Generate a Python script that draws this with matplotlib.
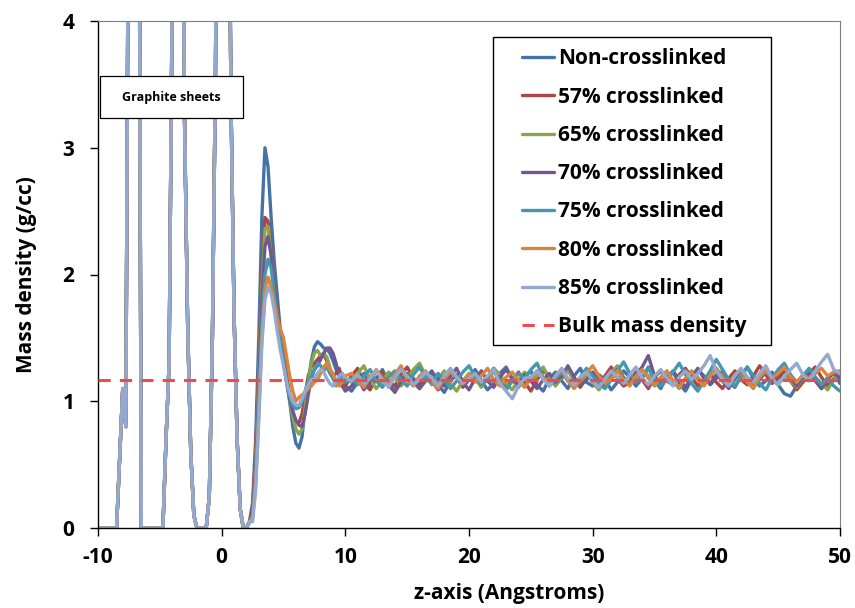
import numpy as np
import matplotlib
matplotlib.use("Agg")
import matplotlib.pyplot as plt
from matplotlib.patches import Rectangle

plt.rcParams['font.family'] = ['Open Sans', 'DejaVu Sans']
plt.rcParams['font.weight'] = 'bold'
plt.rcParams['axes.unicode_minus'] = False

# ---------------- data ----------------
# x grids (Angstroms)
x_graphite = np.arange(-10, 2.5, 0.25)        # graphite-sheet region (shared profile)
x_near = np.arange(2.5, 10.01, 0.25)          # interfacial region
x_bulk = np.arange(10.5, 50.01, 0.5)          # bulk region

graphite_profile = [
    0, 0, 0, 0, 0, 0, 0, 0.55, 1.1, 0.8,
    6.0, 11, 12, 7.5, 0, 0, 0, 0, 0, 0,
    0, 0, 0.7, 1.3, 4.2, 9, 11, 7, 3.2, 1.6,
    0.6, 0.1, 0, 0, 0, 0, 0.25, 1.5, 3.6, 8,
    11, 10, 6.5, 3.4, 1.7, 0.7, 0.15, 0, 0, 0.05,
]

series_labels = ['Non-crosslinked', '57% crosslinked', '65% crosslinked',
                 '70% crosslinked', '75% crosslinked', '80% crosslinked',
                 '85% crosslinked']

near_non = [0.2, 0.7, 1.5, 2.45, 3.0, 2.85, 2.45, 2.1, 1.82, 1.55, 1.37, 1.2, 1.0, 0.8, 0.67, 0.63,
            0.72, 0.95, 1.15, 1.32, 1.43, 1.47, 1.45, 1.42, 1.41, 1.38, 1.32, 1.25, 1.2, 1.15, 1.12]
near_57 = [0.15, 0.6, 1.3, 2.0, 2.45, 2.42, 2.2, 1.95, 1.72, 1.52, 1.36, 1.2, 1.05, 0.92, 0.84, 0.83,
           0.9, 1.05, 1.2, 1.27, 1.3, 1.33, 1.36, 1.37, 1.32, 1.25, 1.2, 1.22, 1.26, 1.18, 1.12]
near_65 = [0.1, 0.5, 1.2, 1.9, 2.36, 2.38, 2.15, 1.92, 1.7, 1.5, 1.32, 1.15, 1.0, 0.88, 0.78, 0.74,
           0.78, 0.95, 1.15, 1.3, 1.38, 1.4, 1.36, 1.38, 1.35, 1.27, 1.18, 1.12, 1.15, 1.22, 1.18]
near_70 = [0.1, 0.45, 1.1, 1.8, 2.22, 2.3, 2.15, 1.92, 1.7, 1.5, 1.32, 1.15, 1.02, 0.92, 0.85, 0.81,
           0.8, 0.9, 1.05, 1.18, 1.25, 1.28, 1.33, 1.38, 1.42, 1.42, 1.38, 1.3, 1.2, 1.12, 1.08]
near_75 = [0.1, 0.4, 1.0, 1.6, 2.0, 2.12, 2.05, 1.85, 1.65, 1.47, 1.3, 1.15, 1.04, 0.97, 0.94, 0.95,
           1.0, 1.08, 1.15, 1.2, 1.25, 1.3, 1.28, 1.24, 1.27, 1.22, 1.18, 1.14, 1.16, 1.2, 1.15]
near_80 = [0.08, 0.35, 0.9, 1.5, 1.88, 1.98, 1.9, 1.78, 1.65, 1.57, 1.5, 1.35, 1.2, 1.08, 1.0, 1.03,
           1.05, 1.07, 1.1, 1.12, 1.15, 1.17, 1.22, 1.27, 1.3, 1.25, 1.22, 1.15, 1.12, 1.15, 1.2]
near_85 = [0.05, 0.3, 0.85, 1.45, 1.8, 1.9, 1.85, 1.72, 1.55, 1.4, 1.28, 1.15, 1.06, 1.0, 0.97, 0.97,
           1.02, 1.08, 1.13, 1.17, 1.18, 1.22, 1.25, 1.23, 1.18, 1.14, 1.12, 1.16, 1.2, 1.22, 1.18]

bulk_non = [1.08, 1.15, 1.22, 1.12, 1.18, 1.25, 1.14, 1.08, 1.17, 1.22,
            1.15, 1.10, 1.19, 1.24, 1.13, 1.07, 1.16, 1.21, 1.12, 1.18,
            1.25, 1.16, 1.09, 1.14, 1.22, 1.27, 1.17, 1.11, 1.19, 1.24,
            1.13, 1.08, 1.18, 1.23, 1.16, 1.10, 1.20, 1.26, 1.15, 1.12,
            1.21, 1.17, 1.09, 1.15, 1.24, 1.19, 1.12, 1.18, 1.27, 1.16,
            1.10, 1.19, 1.23, 1.14, 1.08, 1.17, 1.25, 1.20, 1.13, 1.18,
            1.24, 1.15, 1.11, 1.20, 1.27, 1.18, 1.12, 1.16, 1.23, 1.13,
            1.06, 1.04, 1.12, 1.20, 1.25, 1.17, 1.10, 1.19, 1.22, 1.14]
bulk_57 = [1.20, 1.26, 1.14, 1.09, 1.18, 1.23, 1.16, 1.12, 1.21, 1.27,
           1.18, 1.13, 1.22, 1.16, 1.09, 1.15, 1.24, 1.19, 1.11, 1.17,
           1.22, 1.14, 1.19, 1.26, 1.18, 1.12, 1.16, 1.23, 1.15, 1.08,
           1.17, 1.24, 1.20, 1.13, 1.18, 1.25, 1.16, 1.11, 1.19, 1.22,
           1.14, 1.20, 1.27, 1.18, 1.12, 1.15, 1.23, 1.17, 1.10, 1.19,
           1.24, 1.16, 1.13, 1.21, 1.26, 1.19, 1.12, 1.17, 1.22, 1.15,
           1.10, 1.18, 1.24, 1.17, 1.13, 1.20, 1.28, 1.21, 1.14, 1.18,
           1.23, 1.16, 1.09, 1.15, 1.22, 1.27, 1.19, 1.12, 1.18, 1.21]
bulk_65 = [1.15, 1.22, 1.28, 1.17, 1.10, 1.16, 1.23, 1.19, 1.12, 1.18,
           1.25, 1.30, 1.20, 1.13, 1.17, 1.24, 1.14, 1.08, 1.16, 1.22,
           1.18, 1.11, 1.19, 1.26, 1.21, 1.14, 1.09, 1.17, 1.23, 1.16,
           1.20, 1.27, 1.18, 1.12, 1.19, 1.24, 1.17, 1.13, 1.21, 1.15,
           1.09, 1.16, 1.22, 1.28, 1.19, 1.14, 1.18, 1.25, 1.20, 1.12,
           1.17, 1.23, 1.16, 1.10, 1.18, 1.24, 1.19, 1.13, 1.20, 1.26,
           1.18, 1.12, 1.17, 1.23, 1.15, 1.10, 1.19, 1.24, 1.17, 1.13,
           1.20, 1.16, 1.11, 1.18, 1.25, 1.19, 1.14, 1.09, 1.17, 1.22]
bulk_70 = [1.12, 1.18, 1.09, 1.16, 1.24, 1.19, 1.13, 1.07, 1.15, 1.21,
           1.17, 1.10, 1.16, 1.23, 1.18, 1.12, 1.20, 1.26, 1.15, 1.09,
           1.18, 1.24, 1.16, 1.11, 1.19, 1.25, 1.18, 1.13, 1.21, 1.16,
           1.10, 1.17, 1.22, 1.15, 1.20, 1.28, 1.19, 1.12, 1.17, 1.23,
           1.16, 1.11, 1.19, 1.25, 1.18, 1.13, 1.21, 1.27, 1.36, 1.20,
           1.13, 1.18, 1.24, 1.17, 1.11, 1.19, 1.26, 1.18, 1.14, 1.21,
           1.16, 1.10, 1.18, 1.25, 1.19, 1.13, 1.17, 1.23, 1.15, 1.21,
           1.27, 1.18, 1.12, 1.19, 1.24, 1.16, 1.10, 1.17, 1.23, 1.18]
bulk_75 = [1.18, 1.13, 1.20, 1.25, 1.16, 1.11, 1.19, 1.24, 1.17, 1.12,
           1.21, 1.27, 1.18, 1.14, 1.22, 1.17, 1.10, 1.16, 1.23, 1.28,
           1.19, 1.13, 1.17, 1.24, 1.15, 1.09, 1.16, 1.22, 1.18, 1.25,
           1.30, 1.19, 1.12, 1.18, 1.23, 1.16, 1.11, 1.19, 1.26, 1.20,
           1.14, 1.10, 1.17, 1.24, 1.31, 1.22, 1.15, 1.19, 1.26, 1.18,
           1.12, 1.17, 1.23, 1.30, 1.21, 1.14, 1.08, 1.16, 1.24, 1.33,
           1.25, 1.17, 1.12, 1.19, 1.27, 1.20, 1.14, 1.09, 1.18, 1.25,
           1.30, 1.21, 1.15, 1.20, 1.26, 1.19, 1.13, 1.18, 1.12, 1.08]
bulk_80 = [1.22, 1.16, 1.11, 1.19, 1.25, 1.18, 1.13, 1.21, 1.28, 1.17,
           1.12, 1.20, 1.24, 1.16, 1.10, 1.18, 1.23, 1.19, 1.14, 1.21,
           1.15, 1.20, 1.26, 1.17, 1.12, 1.19, 1.23, 1.16, 1.11, 1.18,
           1.24, 1.19, 1.13, 1.20, 1.25, 1.16, 1.10, 1.17, 1.22, 1.28,
           1.20, 1.14, 1.18, 1.24, 1.17, 1.12, 1.20, 1.25, 1.18, 1.13,
           1.19, 1.24, 1.16, 1.11, 1.18, 1.23, 1.17, 1.12, 1.20, 1.26,
           1.19, 1.14, 1.21, 1.25, 1.16, 1.11, 1.19, 1.24, 1.18, 1.22,
           1.27, 1.19, 1.15, 1.21, 1.18, 1.22, 1.26, 1.20, 1.23, 1.24]
bulk_85 = [1.16, 1.21, 1.14, 1.18, 1.24, 1.17, 1.11, 1.19, 1.25, 1.20,
           1.13, 1.17, 1.23, 1.18, 1.12, 1.20, 1.26, 1.19, 1.14, 1.18,
           1.22, 1.15, 1.20, 1.25, 1.14, 1.08, 1.02, 1.12, 1.18, 1.19,
           1.24, 1.17, 1.12, 1.20, 1.26, 1.18, 1.13, 1.19, 1.23, 1.16,
           1.11, 1.18, 1.24, 1.19, 1.14, 1.21, 1.27, 1.18, 1.13, 1.20,
           1.25, 1.18, 1.12, 1.19, 1.24, 1.17, 1.22, 1.28, 1.36, 1.24,
           1.17, 1.12, 1.20, 1.26, 1.19, 1.15, 1.22, 1.28, 1.18, 1.13,
           1.20, 1.25, 1.30, 1.21, 1.16, 1.24, 1.31, 1.37, 1.25, 1.22]

near_sets = [near_non, near_57, near_65, near_70, near_75, near_80, near_85]
bulk_sets = [bulk_non, bulk_57, bulk_65, bulk_70, bulk_75, bulk_80, bulk_85]

bulk_density = 1.17
bulk_label = 'Bulk mass density'

colors = ['#4572A7', '#AA4643', '#89A54E', '#71588F', '#4198AF', '#DB843D', '#93A9CF']

# ---------------- figure ----------------
FS = 15
fig = plt.figure(figsize=(8.55, 6.08), dpi=100)
ax = fig.add_axes([98/855, 1 - 528/608, (840-98)/855, (528-21)/608])

x_all = np.concatenate([x_graphite, x_near, x_bulk])
for lab, nr, bk, col in zip(series_labels, near_sets, bulk_sets, colors):
    y = np.concatenate([graphite_profile, nr, bk])
    ax.plot(x_all, y, color=col, lw=2.4, label=lab,
            solid_joinstyle='round', solid_capstyle='round')

ax.axhline(bulk_density, color='#F24A4A', lw=2.2, ls=(0, (4.0, 3.0)), label=bulk_label, zorder=5)

ax.set_xlim(-10, 50)
ax.set_ylim(0, 4)
ax.set_xticks(np.arange(-10, 51, 10))
ax.set_yticks([0, 1, 2, 3, 4])
ax.tick_params(axis='both', direction='out', length=6, width=1, labelsize=FS)
ax.tick_params(axis='x', pad=8)
ax.tick_params(axis='y', pad=11)
for lbl in ax.get_xticklabels() + ax.get_yticklabels():
    lbl.set_fontweight('bold')
for s in ['left', 'bottom']:
    ax.spines[s].set_color('black')
    ax.spines[s].set_linewidth(1.0)
for s in ['top', 'right']:
    ax.spines[s].set_color('#7f7f7f')
    ax.spines[s].set_linewidth(0.8)

ax.set_xlabel('z-axis (Angstroms)', fontsize=FS, fontweight='bold')
ax.xaxis.set_label_coords((509-98)/742, -0.108)
ax.set_ylabel('Mass density (g/cc)', fontsize=FS, fontweight='bold', labelpad=18)

# legend frame (drawn as a patch so its size matches the reference box)
ax.add_patch(Rectangle((493/855, 1 - 345/608), (771-493)/855, (345-37)/608,
                       transform=fig.transFigure, facecolor='white',
                       edgecolor='black', lw=1.0, zorder=5.5, clip_on=False))
leg = ax.legend(loc='upper left', bbox_to_anchor=(516/855, 1 - 42/608),
                bbox_transform=fig.transFigure, borderaxespad=0,
                fontsize=FS, frameon=False, handlelength=1.5, handletextpad=0.2,
                labelspacing=0.83, borderpad=0.3)
leg.set_zorder(6)
for t in leg.get_texts():
    t.set_fontweight('bold')

# Graphite sheets annotation box
ax.add_patch(Rectangle((100/855, 1 - 118/608), 143/855, 42/608, transform=fig.transFigure,
                       facecolor='white', edgecolor='black', lw=0.9, zorder=10, clip_on=False))
ax.text(171/855, 1 - 98/608, 'Graphite sheets', transform=fig.transFigure,
        ha='center', va='center', fontsize=9, fontweight='bold', zorder=11)

fig.savefig('out.png', dpi=100)
